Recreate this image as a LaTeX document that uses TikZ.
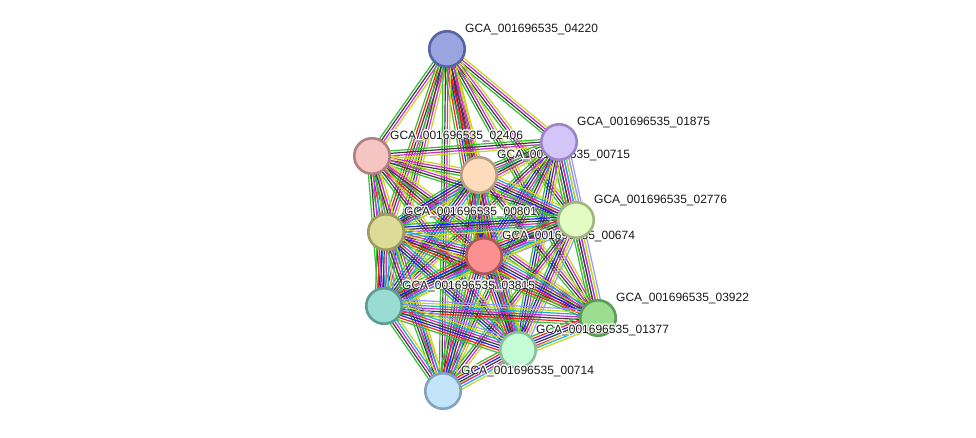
\documentclass[tikz,border=0pt]{standalone}
\usepackage{fontspec}
\setmainfont{Liberation Sans}
\usetikzlibrary{calc}
\usepackage[copies]{contour}
\contourlength{0.9pt}
\contournumber{16}
\pgfdeclarelayer{edges}
\pgfsetlayers{edges,main}
\definecolor{sg}{RGB}{50,190,50}
\definecolor{sr}{RGB}{250,30,30}
\definecolor{sb}{RGB}{30,30,250}
\definecolor{sk}{RGB}{60,60,60}
\definecolor{sm}{RGB}{210,40,210}
\definecolor{sc}{RGB}{30,170,210}
\definecolor{sy}{RGB}{195,215,30}
\definecolor{sl}{RGB}{150,150,255}
\definecolor{fA}{RGB}{154,165,224}\definecolor{dA}{RGB}{88,100,165}
\definecolor{fB}{RGB}{212,196,248}\definecolor{dB}{RGB}{154,133,200}
\definecolor{fC}{RGB}{247,196,196}\definecolor{dC}{RGB}{176,128,128}
\definecolor{fD}{RGB}{253,220,188}\definecolor{dD}{RGB}{184,156,128}
\definecolor{fE}{RGB}{226,252,196}\definecolor{dE}{RGB}{160,184,128}
\definecolor{fF}{RGB}{220,220,152}\definecolor{dF}{RGB}{156,156,96}
\definecolor{fG}{RGB}{252,144,144}\definecolor{dG}{RGB}{176,88,88}
\definecolor{fH}{RGB}{152,220,212}\definecolor{dH}{RGB}{92,156,148}
\definecolor{fI}{RGB}{156,220,144}\definecolor{dI}{RGB}{92,156,88}
\definecolor{fJ}{RGB}{196,252,216}\definecolor{dJ}{RGB}{136,192,156}
\definecolor{fK}{RGB}{196,228,252}\definecolor{dK}{RGB}{128,164,188}
\tikzset{
  prot/.style={circle, minimum size=35.5pt, inner sep=0pt, line width=2.6pt},
  lab/.style={anchor=base west, inner sep=0pt, font=\fontsize{12}{14}\selectfont, text=black!90},
  edge/.style={line width=1.2pt}
}
\newcommand\E[3]{%
  \foreach \cc [count=\i] in {#3}{\xdef\nl{\i}}%
  \foreach \cc [count=\i] in {#3}{%
    \pgfmathsetmacro\off{(\i-(\nl+1)/2)*2.5}%
    \draw[edge,\cc] ($(#1.center)!\off pt!90:(#2.center)$) -- ($(#2.center)!\off pt!-90:(#1.center)$);
  }}
\newcommand\prot[4]{%
  \node[prot, fill=f#1, draw=d#1] (#1) at (#2,#3) {};
  \node[lab] (#1l) at ([xshift=18pt,yshift=17pt]#1.center) {\contour{white}{#4}};
}
\begin{document}
\begin{tikzpicture}[x=1pt,y=-1pt]
\useasboundingbox (0,0) rectangle (976,437);
\prot{A}{447}{49}{GCA\_001696535\_04220}
\prot{C}{372}{156}{GCA\_001696535\_02406}
\prot{D}{479}{175}{GCA\_001696535\_00715}
\prot{B}{559}{142}{GCA\_001696535\_01875}
\prot{F}{386}{232}{GCA\_001696535\_00801}
\prot{G}{484}{256}{GCA\_001696535\_00674}
\prot{E}{576}{220}{GCA\_001696535\_02776}
\prot{H}{384}{306}{GCA\_001696535\_03815}
\prot{I}{598}{318}{GCA\_001696535\_03922}
\prot{J}{518}{350}{GCA\_001696535\_01377}
\prot{K}{443}{391}{GCA\_001696535\_00714}
\begin{pgfonlayer}{edges}
\E{A}{B}{sg,sk,sm,sy}
\E{A}{C}{sg,sk,sm,sy}
\E{A}{D}{sg,sr,sk,sm,sy}
\E{A}{E}{sg,sk,sm,sy}
\E{A}{F}{sg,sr,sk,sm,sy}
\E{A}{G}{sg,sr,sb,sk,sm,sy}
\E{A}{H}{sg,sk,sm,sy}
\E{A}{I}{sg,sk,sm,sy}
\E{A}{J}{sg,sr,sk,sm,sy}
\E{A}{K}{sg,sk,sm,sy}
\E{B}{C}{sg,sk,sm,sy}
\E{B}{D}{sg,sk,sm,sc,sy}
\E{B}{E}{sg,sr,sb,sk,sm,sc,sy,sl}
\E{B}{F}{sg,sk,sm,sy}
\E{B}{G}{sg,sb,sk,sm,sc,sy}
\E{B}{H}{sg,sk,sm,sy}
\E{B}{I}{sg,sk,sm,sc,sy,sl}
\E{B}{J}{sg,sb,sk,sm,sy}
\E{B}{K}{sg,sk,sm,sy}
\E{C}{D}{sg,sk,sm,sy}
\E{C}{E}{sg,sk,sm,sy}
\E{C}{F}{sg,sr,sk,sm,sy}
\E{C}{G}{sg,sr,sk,sm,sy}
\E{C}{H}{sg,sk,sm,sc,sy}
\E{C}{I}{sg,sk,sm,sy}
\E{C}{J}{sg,sk,sm,sy}
\E{C}{K}{sg,sk,sm,sy}
\E{D}{E}{sg,sb,sk,sm,sc,sy}
\E{D}{F}{sg,sb,sk,sm,sc,sy}
\E{D}{G}{sg,sr,sb,sk,sm,sc,sy}
\E{D}{H}{sg,sb,sk,sm,sc,sy}
\E{D}{I}{sg,sk,sm,sy}
\E{D}{J}{sg,sr,sk,sm,sc,sy}
\E{D}{K}{sg,sk,sm,sc,sy}
\E{E}{F}{sg,sb,sk,sm,sc,sy}
\E{E}{G}{sg,sr,sb,sk,sm,sc,sy,sl}
\E{E}{H}{sg,sk,sm,sc,sy}
\E{E}{I}{sg,sk,sm,sy}
\E{E}{J}{sg,sb,sk,sm,sy,sl}
\E{E}{K}{sg,sk,sm,sy}
\E{F}{G}{sg,sr,sb,sk,sm,sc,sy}
\E{F}{H}{sg,sr,sb,sk,sm,sc,sy,sl}
\E{F}{I}{sg,sr,sk,sm,sy}
\E{F}{J}{sg,sb,sk,sm,sc,sy}
\E{F}{K}{sg,sk,sm,sc,sy}
\E{G}{H}{sg,sr,sb,sk,sm,sc,sy}
\E{G}{I}{sg,sr,sb,sk,sm,sc,sy}
\E{G}{J}{sg,sr,sb,sk,sm,sc,sy}
\E{G}{K}{sg,sr,sb,sk,sm,sc,sy}
\E{H}{I}{sg,sr,sk,sm,sc,sy,sl}
\E{H}{J}{sg,sr,sb,sk,sm,sc,sy,sl}
\E{H}{K}{sg,sk,sm,sc,sy}
\E{I}{J}{sg,sr,sb,sk,sm,sc,sy}
\E{I}{K}{sy}
\E{J}{K}{sg,sr,sb,sk,sm,sc,sy}
\end{pgfonlayer}
\end{tikzpicture}
\end{document}
